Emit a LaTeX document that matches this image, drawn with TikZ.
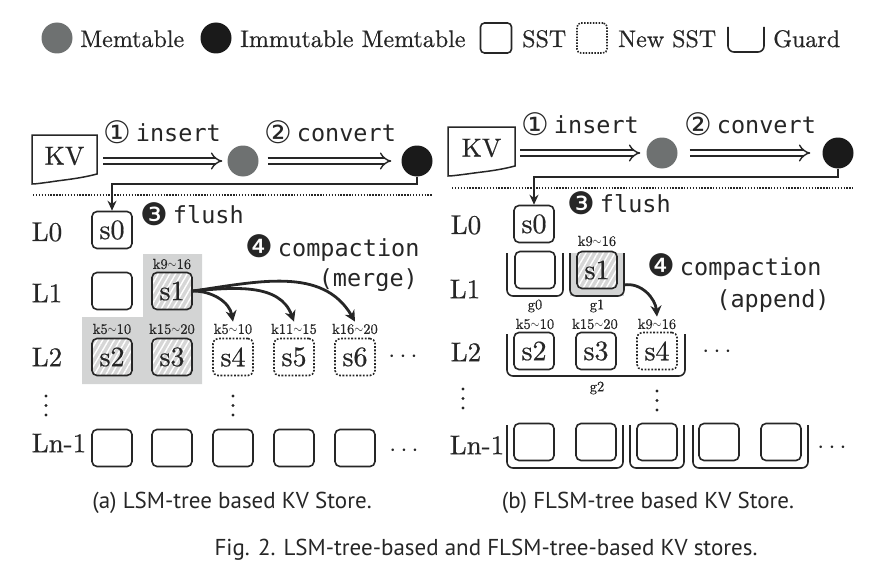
\documentclass[tikz,border=0pt]{standalone}
\usepackage{fontspec}
\usetikzlibrary{arrows.meta,patterns.meta,calc}
\newfontfamily\serf{lmroman10-regular}[Extension=.otf,FakeBold=0.6]
\newfontfamily\monof{DejaVu Sans Mono}
\newfontfamily\symf{DejaVu Sans}
\newfontfamily\capf{PT Sans}
\definecolor{ink}{HTML}{262626}
\definecolor{memgray}{HTML}{6E7171}
\definecolor{immblk}{HTML}{1A1A1A}
\definecolor{bggray}{HTML}{D3D4D4}
\definecolor{hatchbg}{HTML}{D6D6D6}
\newcommand{\grd}[4]{\draw[guardline] (#1,#2) -- (#1,#4) -- (#3,#4) -- (#3,#2);}
\newcommand{\vdotsat}[2]{\foreach \dd in {0,9.5,19} {\fill[ink] (#1,#2-\dd) circle (1.7pt);}}
\newcommand{\cnum}[1]{{\symf\fontsize{31}{31}\selectfont\raisebox{-1.5pt}{#1}}}
\newcommand{\tld}{\raisebox{0.1ex}{\scalebox{0.8}[1]{$\sim$}}}
\tikzset{
  sst/.style={draw=ink, line width=1.6pt, rounded corners=5pt, minimum width=40pt, minimum height=37pt, inner sep=0pt, text=ink, font=\serf\fontsize{28}{28}\selectfont},
  newsst/.style={sst, dash pattern=on 1.8pt off 1.6pt},
  hatched/.style={preaction={fill=hatchbg}, pattern={Lines[angle=60,distance=5pt,line width=1.4pt]}, pattern color=white},
  levlabel/.style={text=ink, inner sep=0pt, font=\serf\fontsize{27}{27}\selectfont},
  keylabel/.style={text=ink, inner sep=0pt, font=\serf\fontsize{14.5}{14.5}\selectfont},
  mono/.style={text=ink, inner sep=0pt, font=\monof\fontsize{23.5}{23.5}\selectfont},
  legtext/.style={text=ink, inner sep=0pt, anchor=base west, font=\serf\fontsize{24}{24}\selectfont},
  captext/.style={text=ink, inner sep=0pt, font=\capf\fontsize{23}{23}\selectfont},
  memnode/.style={circle, fill=memgray, minimum size=31pt, inner sep=0pt},
  immnode/.style={circle, fill=immblk, minimum size=31pt, inner sep=0pt},
  harrow/.style={draw=ink, line width=1.4pt, double=white, double distance=4.5pt, -{Implies[length=9pt,width=20pt]}},
  flusharrow/.style={draw=ink, line width=2.4pt, -{Stealth[length=10pt,width=9pt]}},
  comparrow/.style={draw=ink, line width=2.8pt, -{Stealth[length=11pt,width=11pt]}},
  sepline/.style={draw=ink, line width=1.5pt, dash pattern=on 1.4pt off 1.5pt},
  docline/.style={draw=ink, line width=1.5pt},
  guardline/.style={draw=ink, line width=1.6pt, rounded corners=6pt},
  kvnode/.style={minimum width=65pt, minimum height=40pt, inner sep=0pt, text=ink, font=\serf\fontsize{26}{26}\selectfont}
}
\begin{document}
\begin{tikzpicture}[x=1pt,y=1pt]
\useasboundingbox (0,0) rectangle (878,-578);
% ---------------- legend
\node[memnode] (lgmem) at (57,-38) {};
\node[legtext] (lgmemt) at (80,-47) {Memtable};
\node[immnode] (lgimm) at (216,-38) {};
\node[legtext] (lgimmt) at (240,-47) {Immutable Memtable};
\node[draw=ink, line width=1.6pt, rounded corners=4pt, minimum width=31pt, minimum height=30pt, inner sep=0pt] (lgsst) at (496,-38) {};
\node[legtext] (lgsstt) at (522,-47) {SST};
\node[draw=ink, line width=1.6pt, dash pattern=on 1.5pt off 1.4pt, rounded corners=4pt, minimum width=30pt, minimum height=30pt, inner sep=0pt] (lgnew) at (592,-38) {};
\node[legtext] (lgnewt) at (618,-47) {New SST};
\grd{728}{-27}{764}{-52}
\node[legtext] (lggrdt) at (773,-47) {Guard};

% ================= (a) LSM-tree
\node[kvnode] (kva) at (64.5,-156) {KV};
\draw[docline] (32,-135) -- (97,-135) -- (97,-174) .. controls (78,-179) and (62,-180) .. (50,-182) .. controls (42,-183) and (36,-184) .. (32,-184) -- cycle;
\node[memnode] (mema) at (243,-161) {};
\node[immnode] (imma) at (417,-161) {};
\draw[harrow, shorten <=6pt, shorten >=5pt] (kva.east |- mema.west) -- (mema.west);
\draw[harrow, shorten <=9pt, shorten >=10pt] (mema.east) -- (imma.west);
\node[mono] (insa) at (162,-132) {\cnum{①}\hspace{5pt}insert};
\node[mono] (cona) at (330,-132) {\cnum{②}\hspace{5pt}convert};
\draw[sepline] (33,-195) -- (433,-195);

\node[levlabel] (l0a) at (47,-232) {L0};
\node[sst] (s0a) at (112,-230) {s0};
\draw[flusharrow] (imma.south) -- ++(0,-7.5) -| (s0a.north);
\node[mono, anchor=west] (flusha) at (140,-214) {\cnum{❸}\hspace{5pt}flush};
\node[mono, anchor=west] (compa) at (245,-248) {\cnum{❹}\hspace{5pt}compaction};
\node[mono, anchor=east] (mergea) at (418,-280) {(merge)};

\fill[bggray] (143,-254) -- (202,-254) -- (202,-384) -- (82,-384) -- (82,-317) -- (143,-317) -- cycle;
\node[levlabel] (l1a) at (47,-293) {L1};
\node[sst] (e1a) at (112,-291) {};
\node[sst, hatched] (s1a) at (172,-291) {s1};
\node[keylabel] (k1a) at (172,-264) {k9\tld16};

\node[levlabel] (l2a) at (47,-357) {L2};
\node[sst, hatched] (s2a) at (112,-357) {s2};
\node[sst, hatched] (s3a) at (172,-357) {s3};
\node[sst, newsst] (s4a) at (233,-357) {s4};
\node[sst, newsst] (s5a) at (294,-357) {s5};
\node[sst, newsst] (s6a) at (355,-357) {s6};
\node[keylabel] (k2a) at (112,-329) {k5\tld10};
\node[keylabel] (k3a) at (172,-329) {k15\tld20};
\node[keylabel] (k4a) at (233,-329) {k5\tld10};
\node[keylabel] (k5a) at (294,-329) {k11\tld15};
\node[keylabel] (k6a) at (355,-329) {k16\tld20};
\node[levlabel] (dota) at (403,-357) {$\cdots$};
\draw[comparrow] (s1a.east) to[out=0,in=100] ([yshift=2pt]k4a.north);
\draw[comparrow] (s1a.east) to[out=5,in=110] ([yshift=2pt]k5a.north);
\draw[comparrow] (s1a.east) to[out=8,in=120] ([yshift=2pt]k6a.north);

\vdotsat{46}{-396}
\vdotsat{233}{-396}

\node[levlabel] (lna) at (59,-443) {Ln-1};
\node[sst] (n1a) at (112,-448) {};
\node[sst] (n2a) at (172,-448) {};
\node[sst] (n3a) at (233,-448) {};
\node[sst] (n4a) at (294,-448) {};
\node[sst] (n5a) at (355,-448) {};
\node[levlabel] (dotna) at (404,-451) {$\cdots$};

\node[captext] (capa) at (232,-503) {(a) LSM-tree based KV Store.};

% ================= (b) FLSM-tree
\node[kvnode] (kvb) at (481.5,-148) {KV};
\draw[docline] (448,-127) -- (515,-127) -- (515,-166) .. controls (496,-171) and (480,-172) .. (467,-174) .. controls (459,-175) and (452,-176) .. (448,-176) -- cycle;
\node[memnode] (memb) at (662,-153) {};
\node[immnode] (immb) at (838,-153) {};
\draw[harrow, shorten <=6pt, shorten >=6pt] (kvb.east |- memb.west) -- (memb.west);
\draw[harrow, shorten <=12pt, shorten >=12pt] (memb.east) -- (immb.west);
\node[mono] (insb) at (580,-124) {\cnum{①}\hspace{5pt}insert};
\node[mono] (conb) at (750,-124) {\cnum{②}\hspace{5pt}convert};
\draw[sepline] (452,-188) -- (853,-188);

\node[levlabel] (l0b) at (466,-225) {L0};
\node[sst] (s0b) at (534,-224) {s0};
\draw[flusharrow] (immb.south) -- ++(0,-8) -| (s0b.north);
\node[mono, anchor=west] (flushb) at (567,-203) {\cnum{❸}\hspace{5pt}flush};

\node[levlabel] (l1b) at (465,-289) {L1};
\fill[bggray] (570,-253) rectangle (624,-296);
\node[sst] (e1b) at (535,-270) {};
\node[sst, hatched] (s1b) at (597,-270) {s1};
\grd{507}{-253}{563}{-296}
\grd{570}{-253}{624}{-296}
\node[keylabel] (k1b) at (597,-241) {k9\tld16};
\node[keylabel] (g0b) at (535,-306) {g0};
\node[keylabel] (g1b) at (597,-306) {g1};
\node[mono, anchor=west] (compb) at (647,-267) {\cnum{❹}\hspace{5pt}compaction};
\node[mono] (appb) at (773,-301) {(append)};

\node[levlabel] (l2b) at (466,-352) {L2};
\node[sst] (s2b) at (534,-351) {s2};
\node[sst] (s3b) at (596,-351) {s3};
\node[sst, newsst] (s4b) at (657,-351) {s4};
\grd{507}{-334}{685}{-376}
\node[keylabel] (k2b) at (535,-324) {k5\tld10};
\node[keylabel] (k3b) at (595,-324) {k15\tld20};
\node[keylabel] (k4b) at (657,-324) {k9\tld16};
\node[keylabel] (g2b) at (597,-388) {g2};
\node[levlabel] (dotb) at (717,-352) {$\cdots$};
\draw[comparrow] ([shift={(6,-15)}]s1b.east) to[out=10,in=95] ([yshift=2pt]k4b.north);

\vdotsat{463}{-389}
\vdotsat{657}{-391}

\node[levlabel] (lnb) at (477,-445) {Ln-1};
\node[sst] (n1b) at (534,-442) {};
\node[sst] (n2b) at (596,-442) {};
\node[sst] (n3b) at (657,-442) {};
\node[sst] (n4b) at (719,-442) {};
\node[sst] (n5b) at (781,-442) {};
\grd{507}{-425}{623}{-468}
\grd{630}{-425}{684}{-468}
\grd{693}{-425}{808}{-468}
\node[levlabel] (dotnb) at (832,-448) {$\cdots$};

\node[captext] (capb) at (648,-503) {(b) FLSM-tree based KV Store.};
\node[captext] (fig) at (486,-550) {Fig. 2.\hspace{8pt}LSM-tree-based and FLSM-tree-based KV stores.};
\end{tikzpicture}
\end{document}
